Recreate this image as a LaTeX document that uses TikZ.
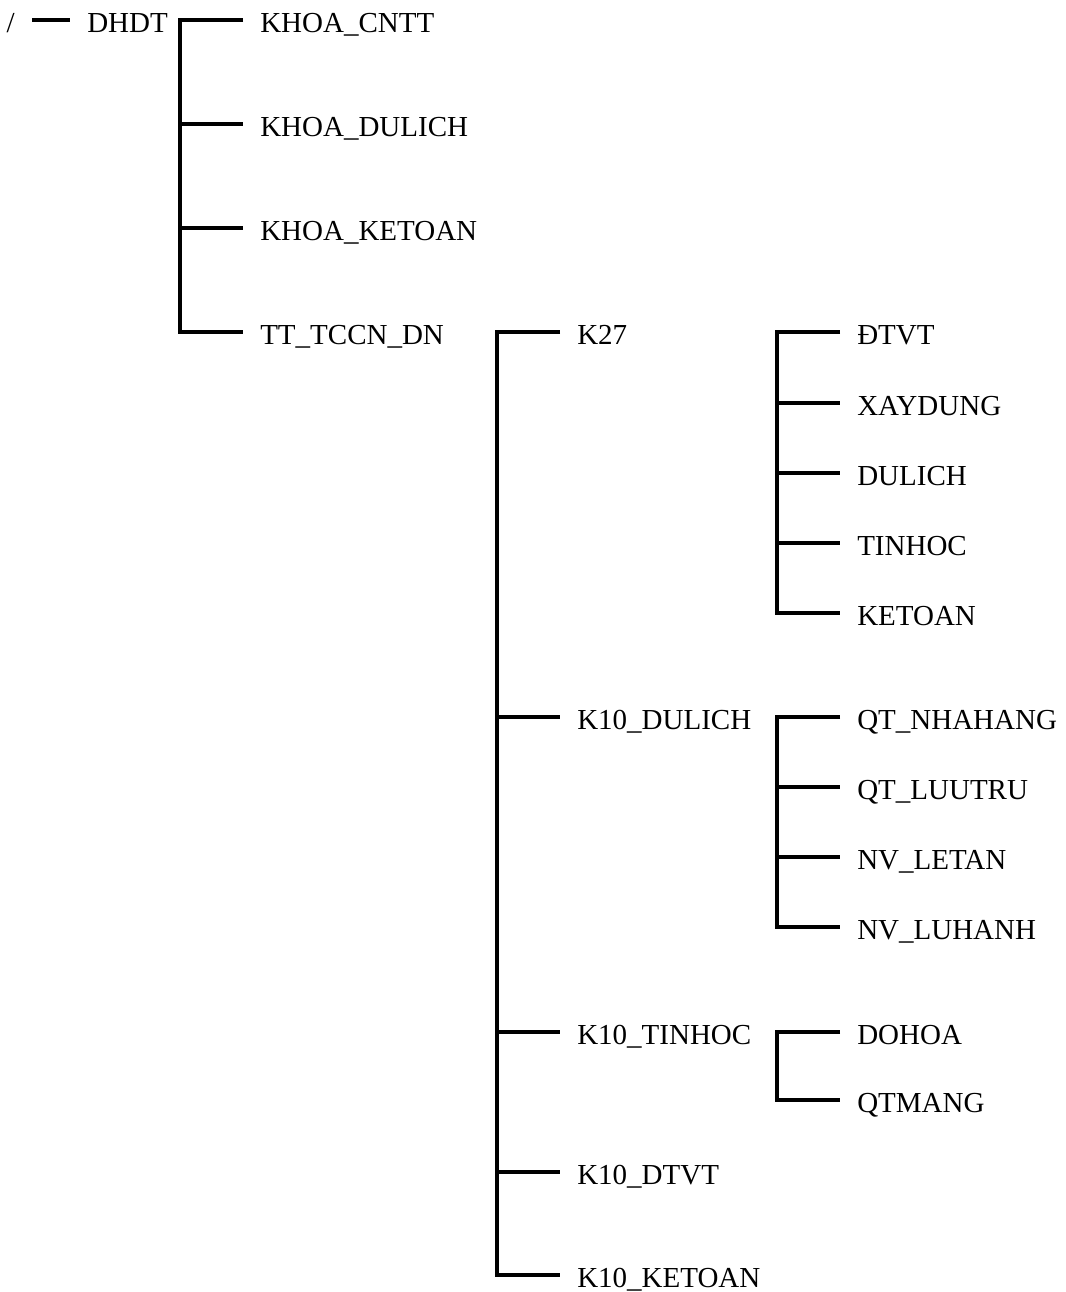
\documentclass[tikz,border=0pt]{standalone}
\usepackage{fontspec}
\setmainfont{Liberation Serif}
\begin{document}
\begin{tikzpicture}[x=1pt, y=-1pt, line width=3.5pt,
    item/.style={anchor=west, inner xsep=15.5pt, inner ysep=0pt, text height=25pt, text depth=0pt, font=\fontsize{29}{34}\selectfont}]
    \useasboundingbox (0,0) rectangle (1065,1292);
    % Root
    \node[item, anchor=east] (root) at (32,20) {/};
    \node[item] (dhdt) at (70,20) {DHDT};
    \draw (root.east) -- (dhdt.west);
    % Level 1
    \coordinate (fdhdt) at (180,20);
    \foreach \y/\n/\t in {20/kcntt/KHOA\_CNTT, 124/kdulich/KHOA\_DULICH, 228/kketoan/KHOA\_KETOAN, 332/tt/TT\_TCCN\_DN} {
            \node[item] (\n) at (243,\y) {\t};
            \draw (fdhdt |- \n.west) -- (\n.west);
        }
    \draw (kcntt.west) -| (fdhdt |- tt.west) -- (tt.west);
    % Level 2
    \coordinate (ftt) at (497,332);
    \foreach \y/\n/\t in {332/k27/K27, 717/kdl/K10\_DULICH, 1032/kth/K10\_TINHOC, 1172/kdt/K10\_DTVT, 1275/kkt/K10\_KETOAN} {
            \node[item] (\n) at (560,\y) {\t};
            \draw (ftt |- \n.west) -- (\n.west);
        }
    \draw (k27.west) -| (ftt |- kkt.west) -- (kkt.west);
    % Level 3
    \coordinate (fk27) at (777,332);
    \foreach \y/\n/\t in {332/dtvt/ĐTVT, 403/xd/XAYDUNG, 473/dl/DULICH, 543/th/TINHOC, 613/kt/KETOAN} {
            \node[item] (\n) at (840,\y) {\t};
            \draw (fk27 |- \n.west) -- (\n.west);
        }
    \draw (dtvt.west) -| (fk27 |- kt.west) -- (kt.west);

    \coordinate (fkdl) at (777,717);
    \foreach \y/\n/\t in {717/nhahang/QT\_NHAHANG, 787/luutru/QT\_LUUTRU, 857/letan/NV\_LETAN, 927/luhanh/NV\_LUHANH} {
            \node[item] (\n) at (840,\y) {\t};
            \draw (fkdl |- \n.west) -- (\n.west);
        }
    \draw (nhahang.west) -| (fkdl |- luhanh.west) -- (luhanh.west);

    \coordinate (fkth) at (777,1032);
    \foreach \y/\n/\t in {1032/dohoa/DOHOA, 1100/qtmang/QTMANG} {
            \node[item] (\n) at (840,\y) {\t};
        }
    \draw (dohoa.west) -| (fkth |- qtmang.west) -- (qtmang.west);
\end{tikzpicture}
\end{document}
